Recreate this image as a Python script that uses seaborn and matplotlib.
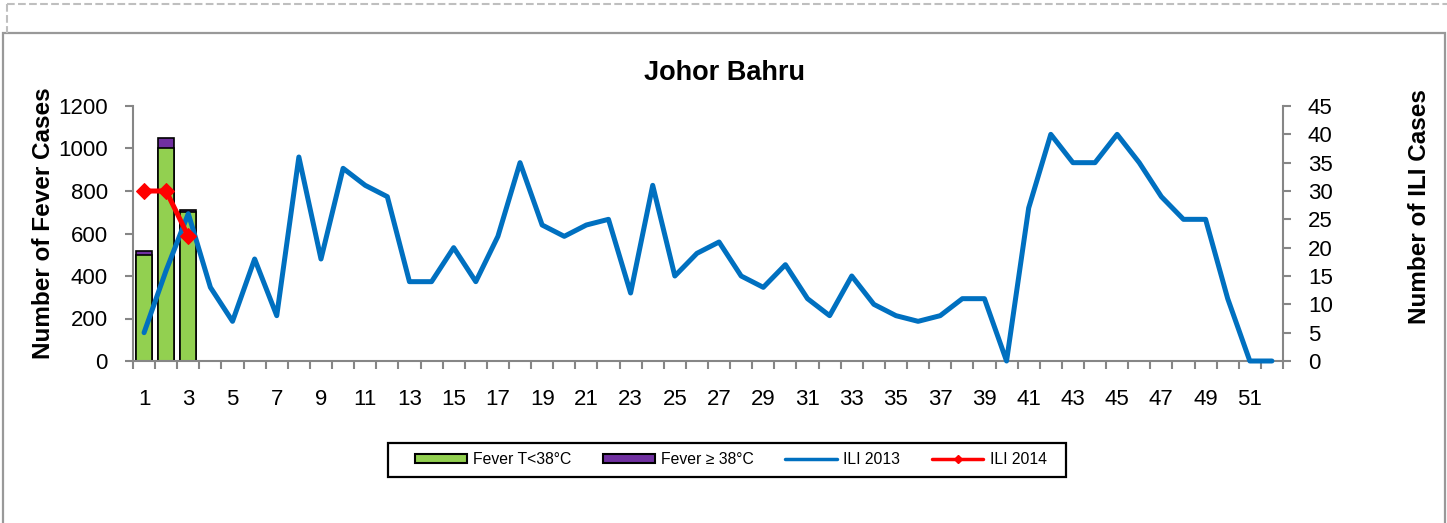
import numpy as np
import pandas as pd
import matplotlib
matplotlib.use("Agg")
import matplotlib.pyplot as plt
import seaborn as sns
from matplotlib.patches import Patch, Rectangle
from matplotlib.lines import Line2D

# ---- data ----
weeks = [str(w) for w in range(1, 53)]
bar_weeks = ["1", "2", "3"]
fever_lt38 = [500, 1000, 700]
fever_ge38 = [20, 50, 10]
ili_2013 = [5, 16, 26, 13, 7, 18, 8, 36, 18, 34, 31, 29, 14, 14, 20, 14, 22, 35,
            24, 22, 24, 25, 12, 31, 15, 19, 21, 15, 13, 17, 11, 8, 15, 10, 8, 7,
            8, 11, 11, 0, 27, 40, 35, 35, 40, 35, 29, 25, 25, 11, 0, 0]
ili_2014 = [30, 30, 22]
left_ticks = [0, 200, 400, 600, 800, 1000, 1200]
right_ticks = [0, 5, 10, 15, 20, 25, 30, 35, 40, 45]

GREEN = "#92D050"
PURPLE = "#7030A0"
BLUE = "#0070C0"
RED = "#FF0000"
GRAY = "#868686"

sns.set_theme(style="white")
plt.rcParams["font.family"] = ["Liberation Sans", "DejaVu Sans"]
plt.rcParams["text.color"] = "black"
plt.rcParams["axes.labelcolor"] = "black"
plt.rcParams["xtick.color"] = "black"
plt.rcParams["ytick.color"] = "black"

W, H = 1447, 523
fig = plt.figure(figsize=(W / 100, H / 100), dpi=100)
ax = fig.add_axes([133 / W, (H - 361) / H, (1283 - 133) / W, (361 - 106) / H])

bars = pd.DataFrame({
    "week": bar_weeks,
    "lt": fever_lt38,
    "total": [a + b for a, b in zip(fever_lt38, fever_ge38)],
})

sns.barplot(data=bars, x="week", y="total", order=weeks, color=PURPLE,
            saturation=1, edgecolor="black", linewidth=1.2, width=0.72,
            errorbar=None, ax=ax)
sns.barplot(data=bars, x="week", y="lt", order=weeks, color=GREEN,
            saturation=1, edgecolor="black", linewidth=1.2, width=0.72,
            errorbar=None, ax=ax)

ax2 = ax.twinx()
pos = np.arange(len(weeks))
sns.lineplot(x=pos, y=ili_2013, ax=ax2, color=BLUE, linewidth=3.6,
             solid_joinstyle="round", solid_capstyle="round", clip_on=False)
sns.lineplot(x=pos[:len(ili_2014)], y=ili_2014, ax=ax2, color=RED,
             linewidth=3.6, marker="D", markersize=8.5, markeredgecolor=RED,
             solid_joinstyle="round", clip_on=False)

ax.set_ylim(0, 1200)
ax.set_yticks(left_ticks)
ax2.set_ylim(0, 45)
ax2.set_yticks(right_ticks)
ax.set_xlim(-0.5, 51.5)
ax.set_xticks(pos[::2])
ax.set_xticklabels(weeks[::2])
ax.set_xticks(np.arange(-0.5, 52, 1), minor=True)
ax.set_xlabel("")

for a in (ax, ax2):
    a.grid(False)
    a.spines["top"].set_visible(False)
    for s in ("left", "right", "bottom"):
        a.spines[s].set_color(GRAY)
        a.spines[s].set_linewidth(1.5)
ax.spines["right"].set_visible(False)
ax2.spines["left"].set_visible(False)
ax2.spines["bottom"].set_visible(False)

ax.tick_params(axis="x", which="major", length=0, pad=20, labelsize=16,
               labelcolor="black")
ax.tick_params(axis="x", which="minor", bottom=True, length=6, width=1.5,
               color=GRAY)
ax.tick_params(axis="y", left=True, length=6, width=1.5, color=GRAY,
               pad=12, labelsize=16, labelcolor="black")
ax2.tick_params(axis="y", right=True, length=6, width=1.5, color=GRAY,
                pad=12, labelsize=16, labelcolor="black")

ax.set_ylabel("Number of Fever Cases", fontsize=17.5, fontweight="bold",
              color="black")
ax.yaxis.set_label_coords(44 / W, (H - 223.5) / H, transform=fig.transFigure)
ax.yaxis.label.set_verticalalignment("center")
ax2.set_ylabel("Number of ILI Cases", fontsize=17.5, fontweight="bold",
               color="black")
ax2.yaxis.set_label_coords(1419 / W, (H - 206.5) / H, transform=fig.transFigure)
ax2.yaxis.label.set_verticalalignment("center")

fig.text(724 / W, (H - 73) / H, "Johor Bahru", ha="center", va="center",
         fontsize=19.5, fontweight="bold", color="black")

handles = [
    Patch(facecolor=GREEN, edgecolor="black", linewidth=1.5, label="Fever T<38°C"),
    Patch(facecolor=PURPLE, edgecolor="black", linewidth=1.5, label="Fever ≥ 38°C"),
    Line2D([], [], color=BLUE, linewidth=2.5, label="ILI 2013"),
    Line2D([], [], color=RED, linewidth=2.5, marker="D", markersize=4.5,
           label="ILI 2014"),
]
leg = fig.legend(handles=handles, loc="center", ncol=4,
                 bbox_to_anchor=(731 / W, (H - 460) / H),
                 bbox_transform=fig.transFigure, fontsize=11.3,
                 frameon=False, handlelength=3.3, handleheight=0.5,
                 handletextpad=0.4, columnspacing=2.0, borderpad=0.6)
# legend frame
fig.add_artist(Rectangle((388 / W, (H - 477) / H), (1066 - 388) / W, 34 / H,
                         transform=fig.transFigure, fill=False,
                         edgecolor="black", linewidth=1.6, zorder=5))

# outer decorations (chart frame)
fig.add_artist(Line2D([7 / W, 1], [1 - 4 / H, 1 - 4 / H], transform=fig.transFigure,
                      color="#BFBFBF", linestyle="--", linewidth=1.5))
fig.add_artist(Line2D([7 / W, 7 / W], [1 - 4 / H, 1 - 33 / H], transform=fig.transFigure,
                      color="#BFBFBF", linestyle="--", linewidth=1.5))
fig.add_artist(Rectangle((2.5 / W, -0.02), (1445 - 2.5) / W, (H - 33) / H + 0.02,
                         transform=fig.transFigure, fill=False,
                         edgecolor="#999999", linewidth=1.6))

fig.savefig("out.png", dpi=100)
